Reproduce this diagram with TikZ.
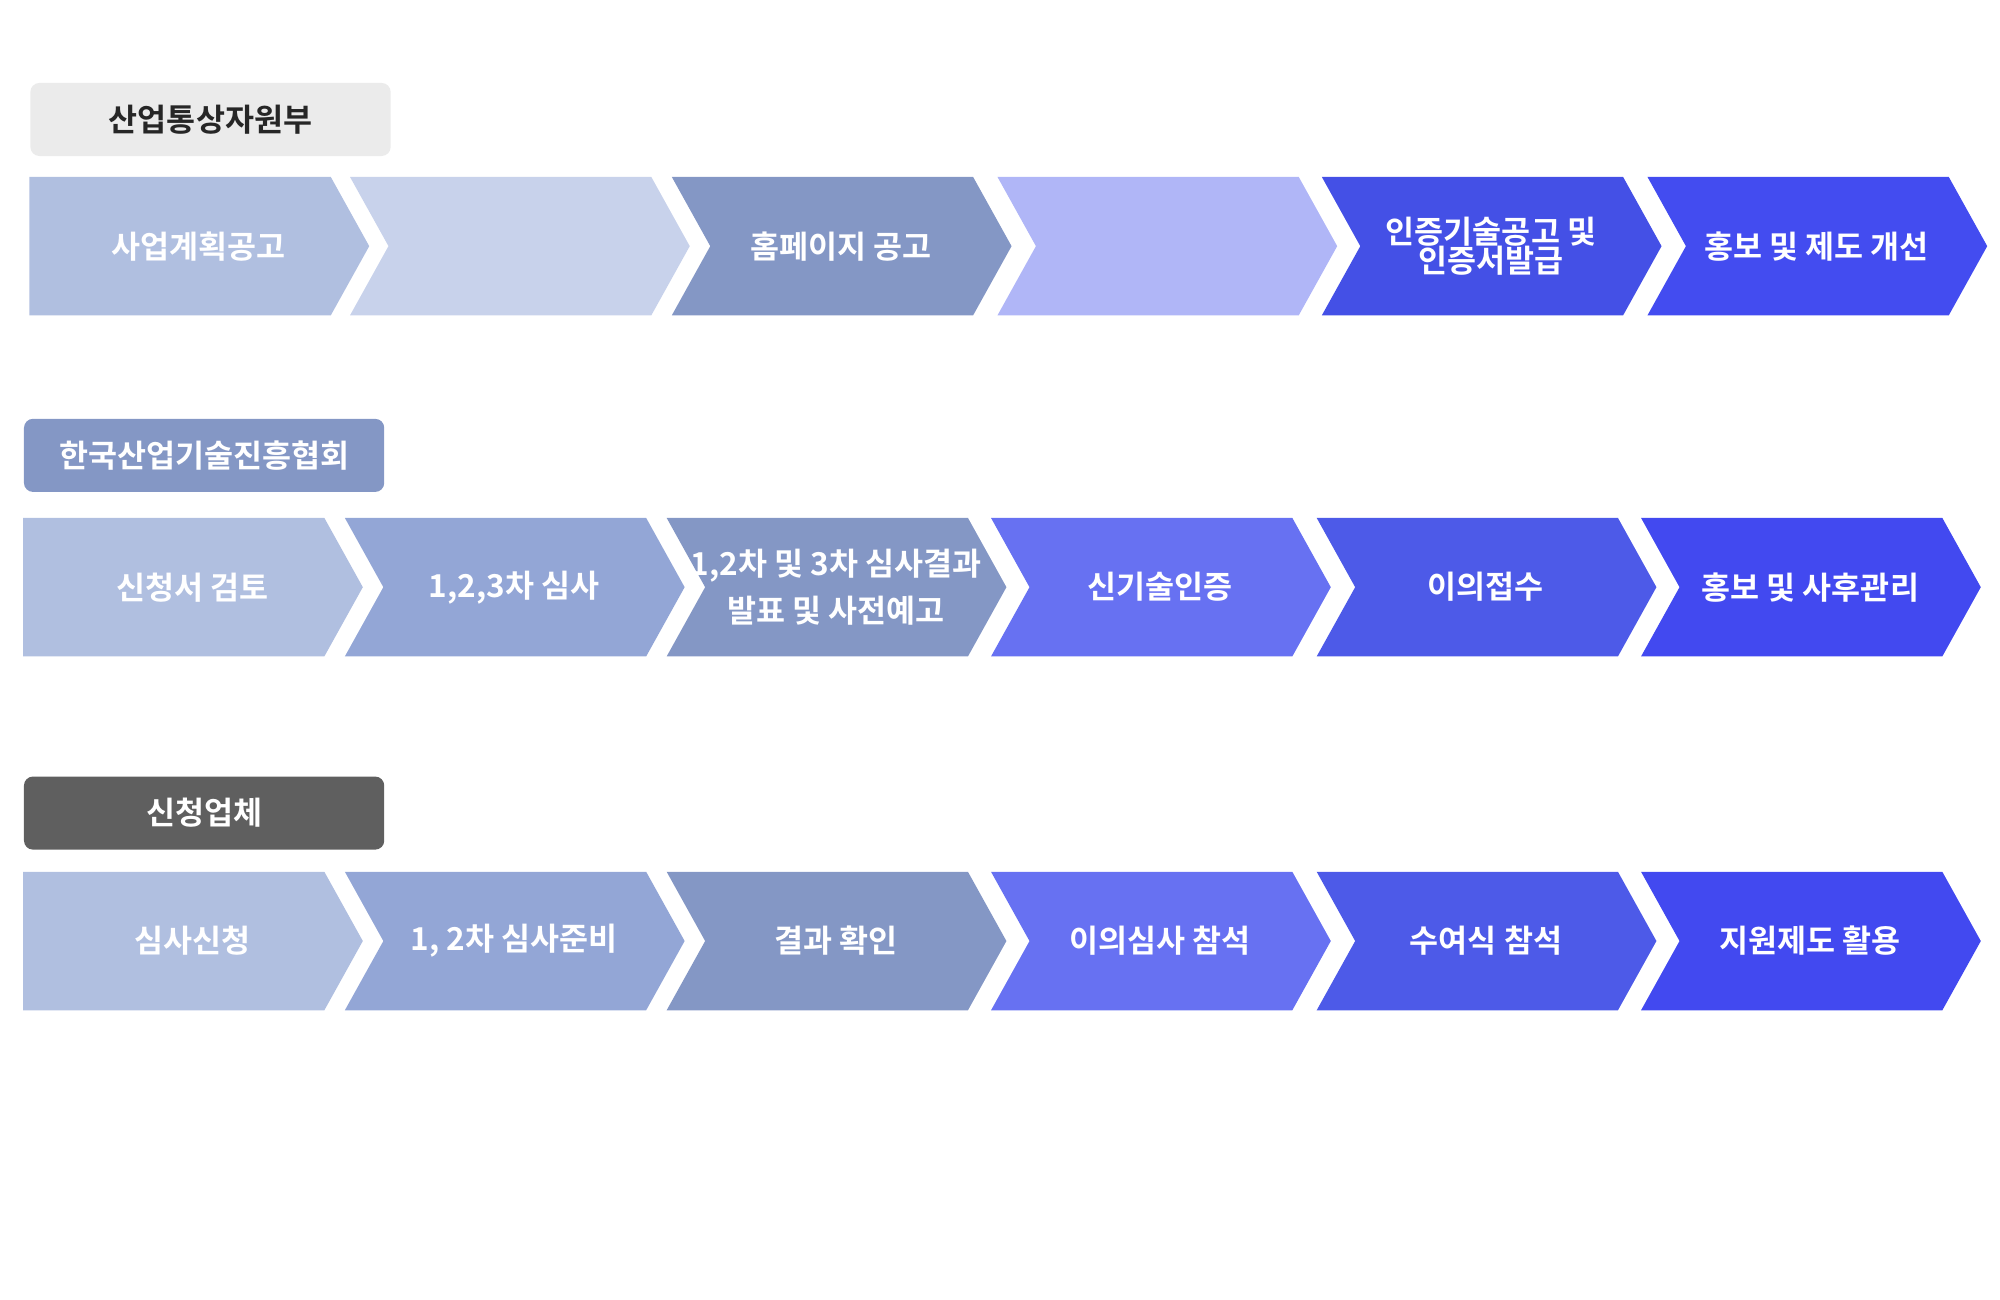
\documentclass[tikz,border=0pt]{standalone}
\usepackage{fontspec}
\setmainfont{Noto Sans CJK KR}[BoldFont={* Bold}]
\usetikzlibrary{positioning}

\definecolor{cA}{HTML}{B0BFE0}
\definecolor{cB}{HTML}{C8D2EB}
\definecolor{cC}{HTML}{8497C5}
\definecolor{cD}{HTML}{B0B6F7}
\definecolor{cE}{HTML}{4450E6}
\definecolor{cF}{HTML}{434CF0}
\definecolor{cG}{HTML}{93A6D6}
\definecolor{cH}{HTML}{6771F2}
\definecolor{cI}{HTML}{4D5AE8}
\definecolor{cJ}{HTML}{4249F0}
\definecolor{cK}{HTML}{5F5F5F}
\definecolor{cL}{HTML}{EBEBEB}

\tikzset{
    steptext/.style={font=\bfseries\fontsize{7}{8.5}\selectfont, text=white, align=center},
    orgbox/.style={rounded corners=2pt, minimum width=2.81cm, minimum height=0.57cm, font=\bfseries\fontsize{7}{8}\selectfont}
}

% chevron: #1 left x, #2 top y, #3 colour, #4 name, #5 text, #6 notch depth
\newcommand{\chev}[6]{
    \fill[#3] (#1,#2) -- ++(2.35,0) -- ++(0.3,-0.54) -- ++(-0.3,-0.54) -- ++(-2.35,0) -- ++(#6,0.54) -- cycle;
    \node[steptext] (#4) at ({#1+1.32},{#2-0.54}) {#5};
}

\begin{document}
\begin{tikzpicture}
    \useasboundingbox (0,0) rectangle (15.6,-10.14);

    % organisation labels
    \node[orgbox, fill=cL, text=black!85, anchor=north west] (moti) at (0.23,-0.64) {산업통상자원부};
    \node[orgbox, fill=cC, text=white, anchor=north west] (koita) at (0.18,-3.26) {한국산업기술진흥협회};
    \node[orgbox, fill=cK, text=white, anchor=north west] (firm) at (0.18,-6.05) {신청업체};

    % row 1
    \chev{0.23}{-1.38}{cA}{ra}{사업계획공고}{0}
    \chev{2.73}{-1.38}{cB}{rb}{}{0.3}
    \chev{5.24}{-1.38}{cC}{rc}{홈페이지 공고}{0.3}
    \chev{7.78}{-1.38}{cD}{rd}{}{0.3}
    \chev{10.31}{-1.38}{cE}{re}{인증기술공고 및\\[-2pt]인증서발급}{0.3}
    \chev{12.85}{-1.38}{cF}{rf}{홍보 및 제도 개선}{0.3}

    % row 2
    \chev{0.18}{-4.04}{cA}{sa}{신청서 검토}{0}
    \chev{2.69}{-4.04}{cG}{sb}{1,2,3차 심사}{0.3}
    \chev{5.20}{-4.04}{cC}{sc}{1,2차 및 3차 심사결과\\[2pt]발표 및 사전예고}{0.3}
    \chev{7.73}{-4.04}{cH}{sd}{신기술인증}{0.3}
    \chev{10.27}{-4.04}{cI}{se}{이의접수}{0.3}
    \chev{12.80}{-4.04}{cJ}{sf}{홍보 및 사후관리}{0.3}

    % row 3
    \chev{0.18}{-6.80}{cA}{ta}{심사신청}{0}
    \chev{2.69}{-6.80}{cG}{tb}{1, 2차 심사준비}{0.3}
    \chev{5.20}{-6.80}{cC}{tc}{결과 확인}{0.3}
    \chev{7.73}{-6.80}{cH}{td}{이의심사 참석}{0.3}
    \chev{10.27}{-6.80}{cI}{te}{수여식 참석}{0.3}
    \chev{12.80}{-6.80}{cJ}{tf}{지원제도 활용}{0.3}
\end{tikzpicture}
\end{document}
